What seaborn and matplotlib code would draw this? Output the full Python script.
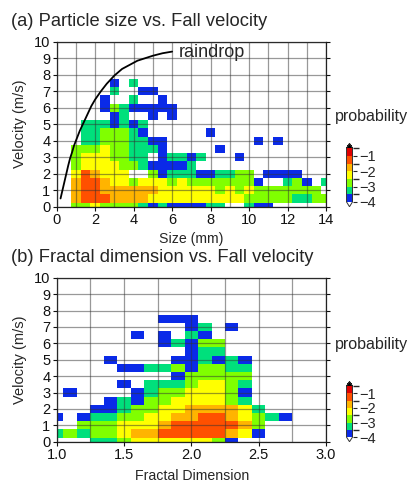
import numpy as np
import pandas as pd
import matplotlib
matplotlib.use("Agg")
import matplotlib.pyplot as plt
import seaborn as sns
from matplotlib.colors import ListedColormap, BoundaryNorm
from matplotlib.cm import ScalarMappable
from matplotlib.ticker import MultipleLocator, FixedFormatter, FormatStrFormatter

# ---------------- data ----------------
# colour classes of log10(probability) (class mid values)
LEVELS = {"b": -3.75, "c": -3.25, "l": -2.75, "y": -2.25, "o": -1.75, "r": -1.25, "R": -0.75}
CLASS_BOUNDS = [-4.0, -3.5, -3.0, -2.5, -2.0, -1.5, -1.0, -0.5]
CLASS_COLORS = ["#0a2ae8", "#00e07c", "#80ff00", "#ffff00", "#ffb400", "#ff5000", "#e00000"]
CBAR_TICKS = [-1, -2, -3, -4]
CBAR_LABELS = ["\u22121", "\u22122", "\u22123", "\u22124"]

# (a) particle size bins (mm) x fall velocity bins (m/s); rows from 0 m/s upward
size_bins = [0.5 * i for i in range(29)]
vel_bins = [0.5 * j for j in range(16)]
grid_a = [
    "..llyllllcbcbbbbcc..cbb",
    "..orrrooooyyyyyyyyyylllllccll",
    "..orrooooooyyyyyylylylllllll",
    "..orroyylyyylylllllllb..clb.c",
    "..yroyyy..lbcccbbccll.bbbb",
    "..lyyyyllcbbbbc",
    "..lyyyllcc.bccbc...b",
    "..lllyllcccb.....b",
    "...cclllccbb.........b.b",
    "...cclllcb......b",
    "...cccbcbc",
    "......bc..b.b",
    ".....blcbbbbb",
    ".....b..c..b",
    "......c..bb",
    "......b.c",
]

# (b) fractal dimension bins x fall velocity bins
fd_bins = [1.0 + 0.1 * i for i in range(21)]
grid_b = [
    "...cclyyyyyylb",
    "clcllyoorrrrroyb",
    "..lllyyyorrrrrol",
    "b.bccllyyoorroylcb",
    "...bbcllyyooooyc",
    "....bcbllyyyylc",
    ".b....bcllyyylb",
    ".....b.ccclyylc",
    ".........blllll",
    ".....bbcclbllcc",
    "....b....bbcbcb",
    "..........bcc",
    "........bcbll",
    "......b.b.cb",
    "..........bc.b",
    "........bbb",
]

# raindrop terminal velocity curve
rain_size = [0.2, 0.3, 0.4, 0.5, 0.6, 0.7, 0.8, 0.9, 1.0, 1.2, 1.4, 1.6, 1.8, 2.0,
             2.3, 2.6, 3.0, 3.4, 3.8, 4.2, 4.6, 5.0, 5.5, 6.0]
rain_vel = [0.5, 1.0, 1.5, 2.0, 2.5, 2.95, 3.3, 3.7, 4.0, 4.6, 5.1, 5.6, 6.1, 6.5,
            7.0, 7.45, 7.95, 8.35, 8.6, 8.85, 9.0, 9.15, 9.3, 9.4]


def to_frame(rows, xbins, ybins, xname):
    recs = []
    for j, row in enumerate(rows):
        for i, ch in enumerate(row):
            if ch in LEVELS:
                recs.append({xname: xbins[i], "vel": ybins[j], "prob": 10 ** LEVELS[ch]})
    return pd.DataFrame(recs)


df_a = to_frame(grid_a, size_bins, vel_bins, "size")
df_b = to_frame(grid_b, fd_bins, vel_bins, "fd")

# ---------------- style ----------------
sns.set_theme(style="white")
plt.rcParams["font.family"] = ["Liberation Sans", "DejaVu Sans"]
plt.rcParams["axes.edgecolor"] = "#222222"
plt.rcParams["axes.linewidth"] = 0.9

cmap = ListedColormap(CLASS_COLORS)
cmap.set_over("black")
cmap.set_under("white")
prob_norm = BoundaryNorm([10 ** b for b in CLASS_BOUNDS], len(CLASS_COLORS))
lev_norm = BoundaryNorm(CLASS_BOUNDS, len(CLASS_COLORS))

W, H = 409, 482
fig = plt.figure(figsize=(W / 100, H / 100), dpi=100)


def fx(px):
    return px / W


def fy(py):
    return 1 - py / H


def make_panel(top, bottom, df, xcol, xedges, xlim, xmajor, xminor_grid, xfmt):
    ax = fig.add_axes([fx(56.7), fy(bottom), fx(326) - fx(56.7), fy(top) - fy(bottom)])
    yedges = [v - 0.25 for v in vel_bins] + [vel_bins[-1] + 0.25]
    sns.histplot(data=df, x=xcol, y="vel", weights="prob", bins=(xedges, yedges),
                 cmap=cmap, norm=prob_norm, vmin=None, vmax=None, ax=ax, zorder=1)
    ax.set_xlim(*xlim)
    ax.set_ylim(0, 10)
    ax.xaxis.set_major_locator(MultipleLocator(xmajor))
    ax.xaxis.set_minor_locator(MultipleLocator(xminor_grid))
    ax.yaxis.set_major_locator(MultipleLocator(1))
    ax.xaxis.set_major_formatter(xfmt)
    ax.set_axisbelow(False)
    ax.grid(True, which="both", axis="x", color="#333333", alpha=0.5, lw=0.9)
    ax.grid(True, which="major", axis="y", color="#333333", alpha=0.5, lw=0.9)
    ax.tick_params(axis="both", which="major", direction="out", length=3, width=0.8,
                   labelsize=10.5, pad=1.5, left=True, bottom=True, right=True,
                   labelright=False, colors="#111111")
    ax.tick_params(axis="x", which="minor", length=0)
    ax.set_xlabel("")
    ax.set_ylabel("")
    for s in ax.spines.values():
        s.set_visible(True)
        s.set_color("#222222")
    return ax


def make_cbar(py_m4, px_per_unit):
    top = py_m4 - 3.5 * px_per_unit
    cax = fig.add_axes([fx(346.5), fy(py_m4), fx(6), fy(top) - fy(py_m4)])
    cb = fig.colorbar(ScalarMappable(norm=lev_norm, cmap=cmap), cax=cax, extend="both",
                      extendfrac=0.09, ticks=CBAR_TICKS)
    cb.ax.yaxis.set_major_formatter(FixedFormatter(CBAR_LABELS))
    cb.ax.tick_params(labelsize=10.5, length=3, width=0.8, pad=2, direction="out")
    cb.outline.set_linewidth(0.7)
    cb.outline.set_edgecolor("#333333")
    return cb


# panel (a)
xed_a = [s - 0.25 for s in size_bins] + [size_bins[-1] + 0.25]
ax_a = make_panel(41.7, 206.7, df_a, "size", xed_a, (0, 14), 2, 1, FormatStrFormatter("%d"))
sns.lineplot(x=rain_size, y=rain_vel, sort=False, color="black", lw=1.3, ax=ax_a, zorder=3)
ax_a.text(6.35, 9.35, "raindrop", fontsize=13, va="center", ha="left", zorder=4)
make_cbar(206.7, 18.1)

# panel (b)
xed_b = [f - 0.05 for f in fd_bins] + [fd_bins[-1] + 0.05]
ax_b = make_panel(277.7, 441.7, df_b, "fd", xed_b, (1.0, 3.0), 0.5, 0.25, FormatStrFormatter("%.1f"))
make_cbar(441.7, 17.2)

# titles & labels
fig.text(fx(11), fy(21), "(a) Particle size vs. Fall velocity", fontsize=13.2, va="center", ha="left")
fig.text(fx(11), fy(258), "(b) Fractal dimension vs. Fall velocity", fontsize=13.2, va="center", ha="left")
fig.text(fx(20), fy(124), "Velocity (m/s)", rotation=90, fontsize=10.5, va="center", ha="center")
fig.text(fx(20), fy(360), "Velocity (m/s)", rotation=90, fontsize=10.5, va="center", ha="center")
fig.text(fx(191), fy(239), "Size (mm)", fontsize=10.2, va="center", ha="center")
fig.text(fx(192), fy(476), "Fractal Dimension", fontsize=10.2, va="center", ha="center")
fig.text(fx(335), fy(116), "probability", fontsize=11.5, va="center", ha="left")
fig.text(fx(335), fy(344), "probability", fontsize=11.5, va="center", ha="left")

fig.savefig("out.png", dpi=100)
